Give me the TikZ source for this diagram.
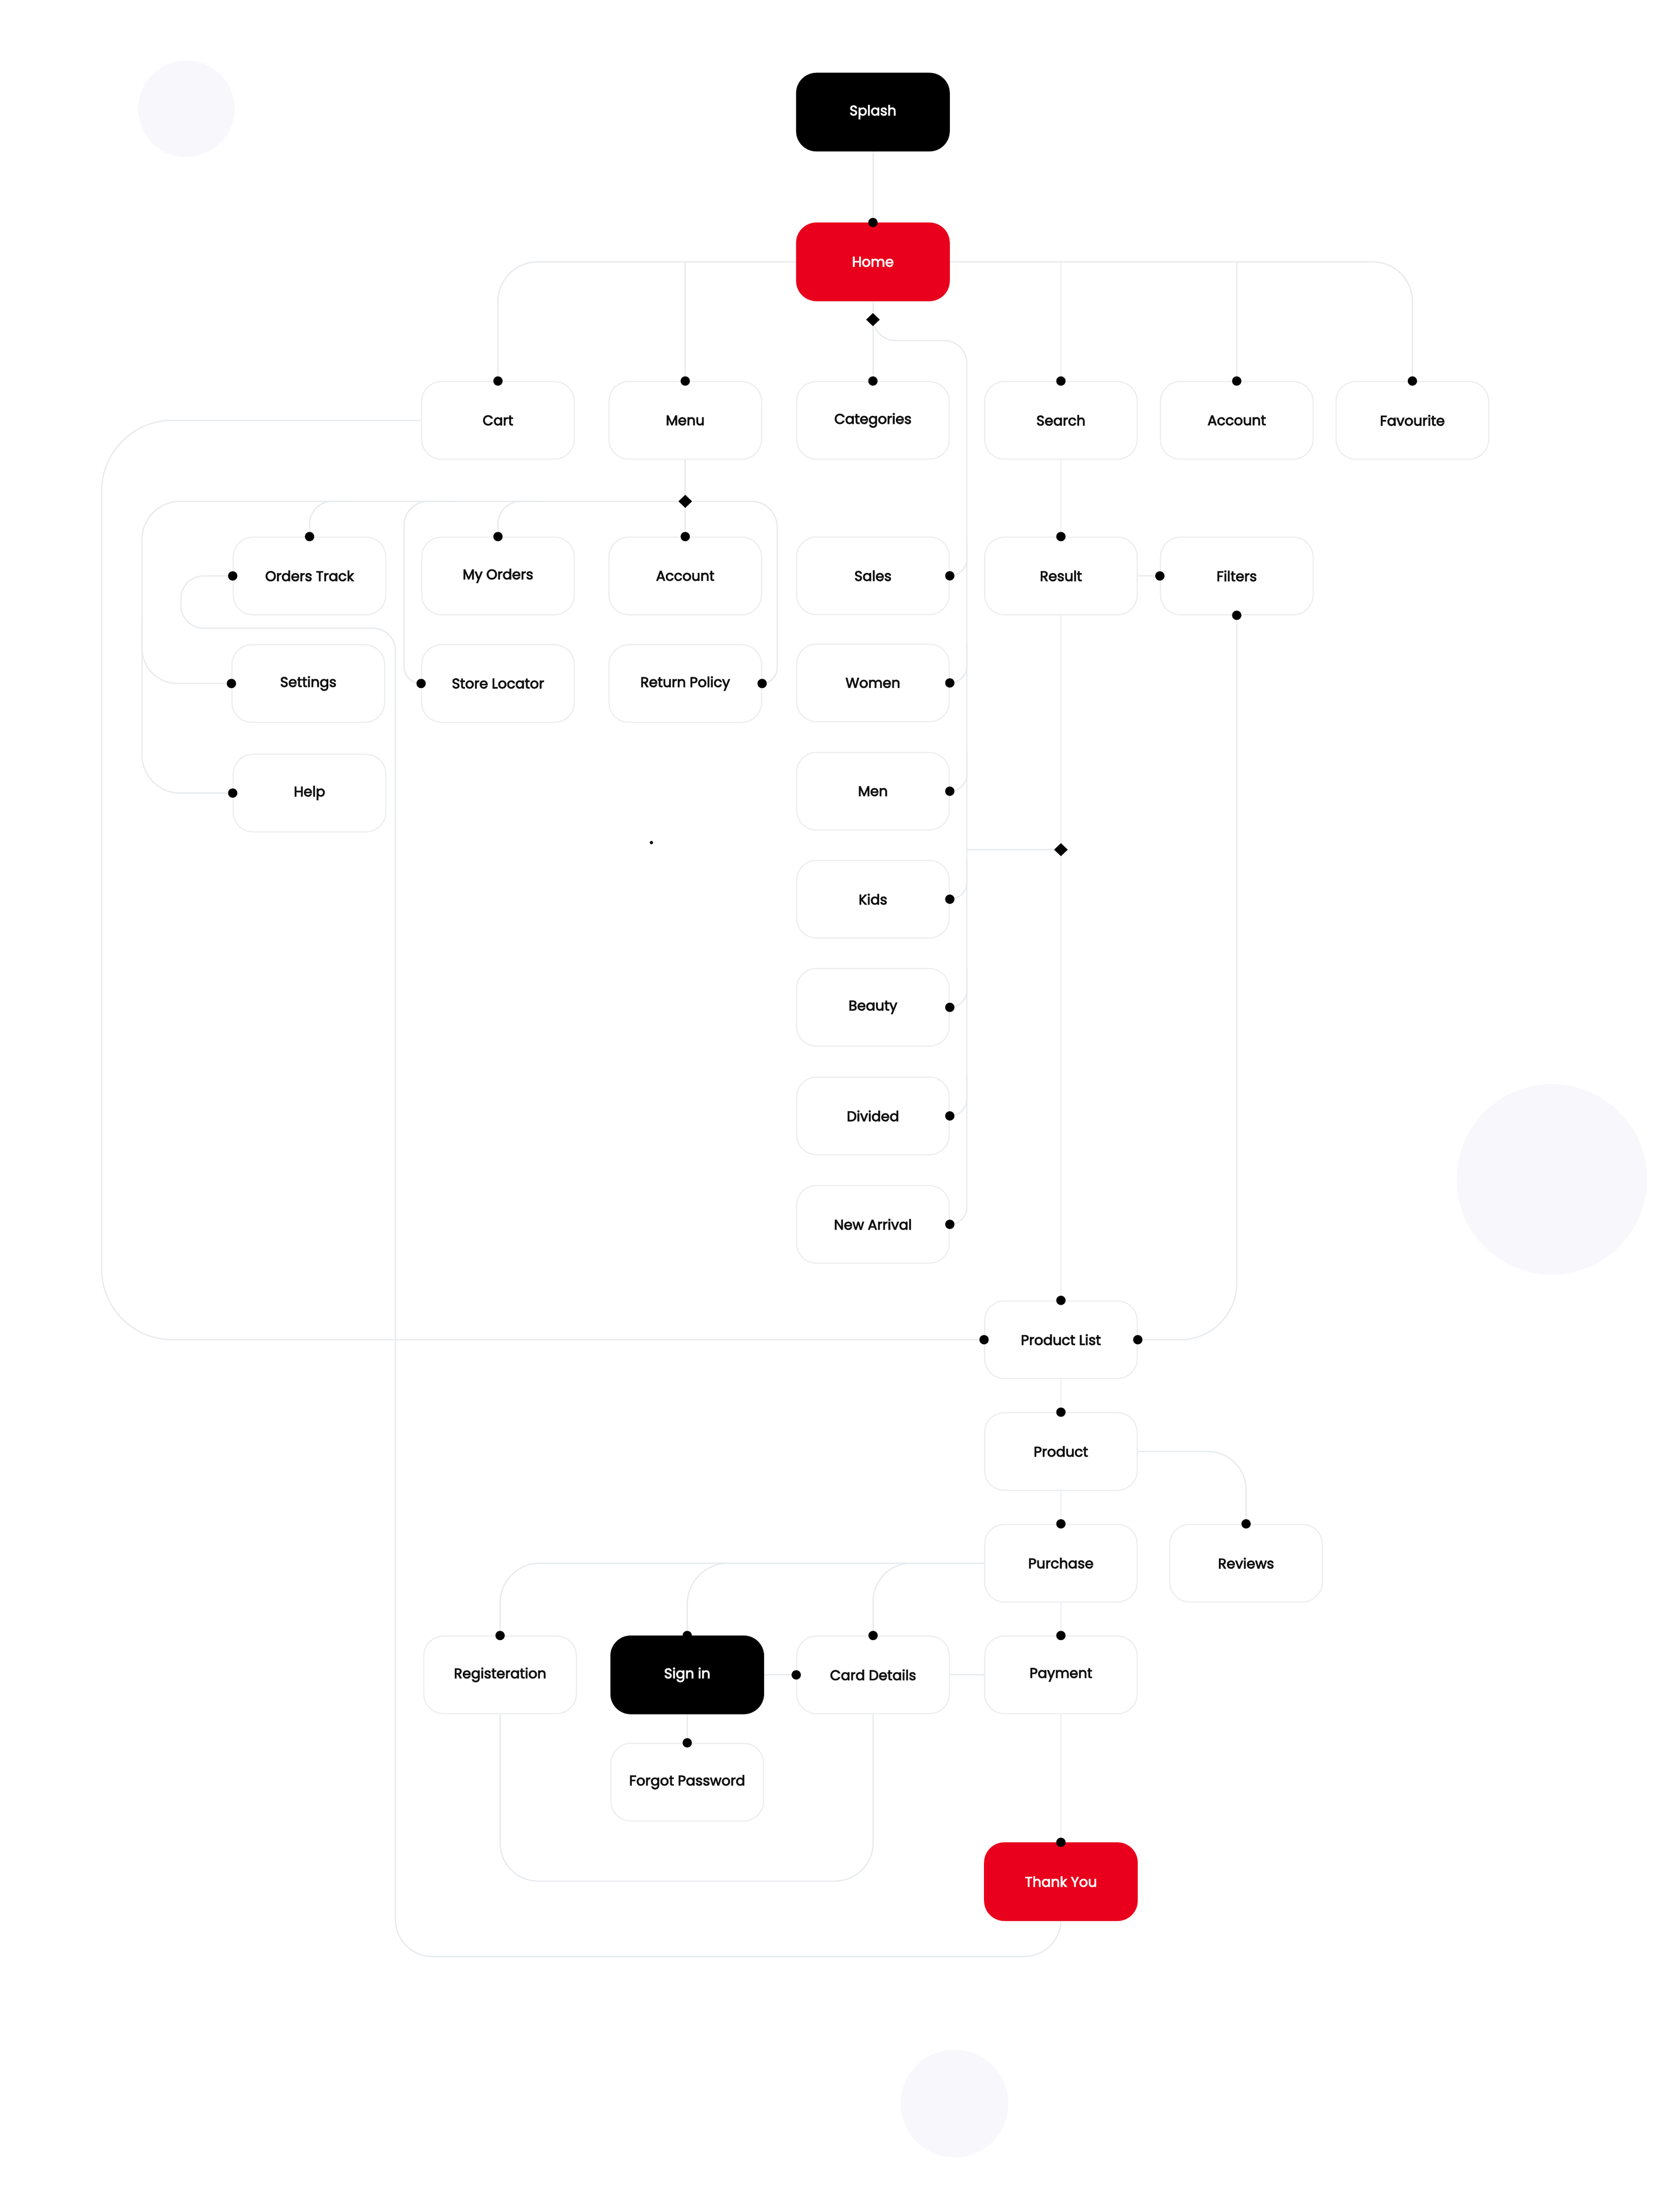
\documentclass[tikz,border=0pt]{standalone}
\usepackage{fontspec}
\setmainfont{Poppins}[FakeBold=3.6]
\usetikzlibrary{calc}
\pgfdeclarelayer{back}
\pgfdeclarelayer{wires}
\pgfdeclarelayer{front}
\pgfsetlayers{back,wires,main,front}
\definecolor{linec}{HTML}{E8EBEE}
\definecolor{boxc}{HTML}{ECEDF0}
\definecolor{redc}{HTML}{E8001C}
\definecolor{blobc}{HTML}{F7F7FC}
\definecolor{txtc}{HTML}{111111}
\tikzset{
  box/.style={draw=boxc, line width=0.8pt, rounded corners=14pt, minimum width=107.8pt,
    minimum height=54.8pt, inner sep=0pt, fill=white, text=txtc,
    font=\fontsize{9.9}{12}\selectfont},
  darkbox/.style={box, draw=black, fill=black, text=white},
  redbox/.style={box, draw=redc, fill=redc, text=white},
  ln/.style={draw=linec, line width=0.9pt},
}
\newcommand\mydot[1]{\fill[black] (#1) circle (3.3pt);}
\newcommand\mydia[1]{\fill[black] ($(#1)+(0,-4.6)$) -- ($(#1)+(4.8,0)$) -- ($(#1)+(0,4.6)$) -- ($(#1)+(-4.8,0)$) -- cycle;}
\begin{document}
\begin{tikzpicture}[x=1pt,y=-1pt]
\useasboundingbox (0,0) rectangle (1186,1562.8);
\begin{pgfonlayer}{back}
  \fill[white] (0,0) rectangle (1186,1562.8);
  \fill[blobc] (131.7,76.8) circle (34pt);
  \fill[blobc] (1096.3,833.2) circle (67.2pt);
  \fill[blobc] (674.3,1486.2) circle (38pt);
\end{pgfonlayer}

% nodes
\node[darkbox] (splash) at (616.7,79.2) {Splash};
\node[redbox] (home) at (616.7,185) {Home};

\node[box] (cart) at (351.8,297) {Cart};
\node[box] (menu) at (484.1,297) {Menu};
\node[box] (cat) at (616.7,297) {Categories};
\node[box] (search) at (749.5,297) {Search};
\node[box] (acct) at (873.7,297) {Account};
\node[box] (fav) at (997.8,297) {Favourite};

\node[box] (otrack) at (218.7,406.9) {Orders Track};
\node[box] (myord) at (351.8,406.9) {My Orders};
\node[box] (macct) at (484.1,406.9) {Account};
\node[box] (settings) at (217.8,482.9) {Settings};
\node[box] (storeloc) at (351.8,482.9) {Store Locator};
\node[box] (retpol) at (484.1,482.9) {Return Policy};
\node[box] (help) at (218.7,560.3) {Help};

\node[box] (sales) at (616.7,406.8) {Sales};
\node[box] (women) at (616.7,482.5) {Women};
\node[box] (men) at (616.7,559) {Men};
\node[box] (kids) at (616.7,635.3) {Kids};
\node[box] (beauty) at (616.7,711.7) {Beauty};
\node[box] (divided) at (616.7,788.4) {Divided};
\node[box] (newarr) at (616.7,865) {New Arrival};

\node[box] (result) at (749.5,406.9) {Result};
\node[box] (filters) at (873.7,406.9) {Filters};

\node[box] (plist) at (749.5,946.5) {Product List};
\node[box] (product) at (749.5,1025.5) {Product};
\node[box] (purchase) at (749.5,1104.4) {Purchase};
\node[box] (reviews) at (880.3,1104.4) {Reviews};

\node[box] (reg) at (353.3,1183.3) {Registeration};
\node[darkbox] (signin) at (485.5,1183.3) {Sign in};
\node[box] (card) at (616.8,1183.3) {Card Details};
\node[box] (payment) at (749.5,1183.3) {Payment};
\node[box] (forgot) at (485.5,1259.1) {Forgot Password};
\node[redbox] (thanks) at (749.5,1329.4) {Thank You};

\coordinate (dmHome) at (616.7,225.8);
\coordinate (dmMenu) at (484.1,354.2);
\coordinate (dmCat) at (749.5,600.3);

\begin{pgfonlayer}{wires}
  \draw[ln] (splash.south) -- (home.north);
  \draw[ln, rounded corners=28pt] (home.west) -- (cart.north |- home.west) -- (cart.north);
  \draw[ln] (menu.north |- home.west) -- (menu.north);
  \draw[ln, rounded corners=28pt] (home.east) -- (fav.north |- home.east) -- (fav.north);
  \draw[ln] (search.north |- home.east) -- (search.north);
  \draw[ln] (acct.north |- home.east) -- (acct.north);
  \draw[ln] (home.south) -- (cat.north);
  % categories bus
  \draw[ln, rounded corners=16pt] (dmHome) -- (616.7,240.6) -- (683,240.6)
     [rounded corners=12pt] -- (683,865) -- (newarr.east);
  \draw[ln, rounded corners=12pt] (683,380) -- (683,406.8) -- (sales.east);
  \draw[ln, rounded corners=12pt] (683,455) -- (683,482.5) -- (women.east);
  \draw[ln, rounded corners=12pt] (683,530) -- (683,559) -- (men.east);
  \draw[ln, rounded corners=12pt] (683,607) -- (683,635.3) -- (kids.east);
  \draw[ln, rounded corners=12pt] (683,684) -- (683,711.7) -- (beauty.east);
  \draw[ln, rounded corners=12pt] (683,760) -- (683,788.4) -- (divided.east);
  \draw[ln] (683,600.3) -- (dmCat);
  % search chain
  \draw[ln] (search.south) -- (result.north);
  \draw[ln] (result.south) -- (plist.north);
  \draw[ln] (result.east) -- (filters.west);
  \draw[ln, rounded corners=40pt] (filters.south) -- (filters.south |- plist.east) -- (plist.east);
  \draw[ln, rounded corners=50pt] (cart.west) -- (71.8,297) -- (71.8,946.5) -- (plist.west);
  % menu
  \draw[ln] (menu.south) -- (macct.north);
  \draw[ln, rounded corners=27pt] (dmMenu) -- (100.3,354.2) -- (100.3,560.3) -- (help.west);
  \draw[ln, rounded corners=25pt] (100.3,440) -- (100.3,482.9) -- (settings.west);
  \draw[ln, rounded corners=16pt] (250,354.2) -- (218.7,354.2) -- (otrack.north);
  \draw[ln, rounded corners=16pt] (384,354.2) -- (351.8,354.2) -- (myord.north);
  \draw[ln, rounded corners=17pt] (320,354.2) -- (285.4,354.2)
     [rounded corners=12pt] -- (285.4,482.9) -- (storeloc.west);
  \draw[ln, rounded corners=18pt] (dmMenu) -- (549,354.2)
     [rounded corners=11pt] -- (549,482.9) -- (retpol.east);
  % orders track loop to thank you
  \draw[ln, rounded corners=16pt] (otrack.west) -- (127.8,406.9) -- (127.8,443.8) -- (279.4,443.8)
     [rounded corners=26pt] -- (279.4,1382.3) -- (749.5,1382.3) -- (thanks.south);
  % product chain
  \draw[ln] (plist.south) -- (product.north);
  \draw[ln, rounded corners=27pt] (product.east) -- (reviews.north |- product.east) -- (reviews.north);
  \draw[ln] (product.south) -- (purchase.north);
  \draw[ln, rounded corners=28pt] (purchase.west) -- (reg.north |- purchase.west) -- (reg.north);
  \draw[ln, rounded corners=29pt] (520,1104.4) -- (signin.north |- purchase.west) -- (signin.north);
  \draw[ln, rounded corners=27pt] (650,1104.4) -- (card.north |- purchase.west) -- (card.north);
  \draw[ln] (purchase.south) -- (payment.north);
  \draw[ln] (signin.east) -- (card.west);
  \draw[ln] (card.east) -- (payment.west);
  \draw[ln] (signin.south) -- (forgot.north);
  \draw[ln, rounded corners=27pt] (reg.south) -- (353.3,1329) -- (616.8,1329) -- (card.south);
  \draw[ln] (payment.south) -- (thanks.north);
\end{pgfonlayer}

\begin{pgfonlayer}{front}
  \foreach \a in {home.north,cart.north,menu.north,cat.north,search.north,acct.north,fav.north,
     otrack.north,myord.north,macct.north,otrack.west,settings.west,storeloc.west,retpol.east,help.west,
     sales.east,women.east,men.east,kids.east,beauty.east,divided.east,newarr.east,
     result.north,filters.west,filters.south,plist.north,plist.west,plist.east,
     product.north,purchase.north,reviews.north,reg.north,signin.north,card.north,card.west,
     payment.north,forgot.north,thanks.north}{\mydot{\a}}
  \mydia{dmHome}
  \mydia{dmMenu}
  \mydia{dmCat}
  \fill[black] (460.2,595.3) circle (1.2pt);
\end{pgfonlayer}
\end{tikzpicture}
\end{document}
